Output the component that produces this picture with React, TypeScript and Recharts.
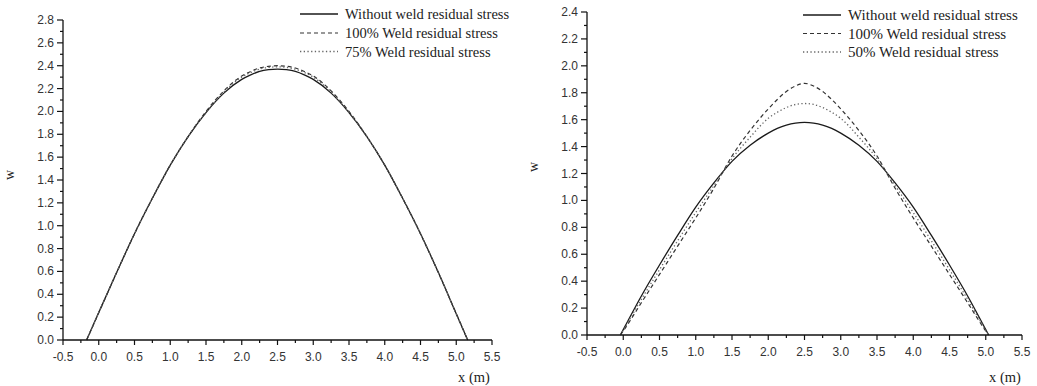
import { Line, LineChart, XAxis, YAxis } from "recharts";

// x positions (m)
const xLeft = [-0.17, 0, 0.25, 0.5, 0.75, 1.0, 1.25, 1.5, 1.75, 2.0, 2.125, 2.25, 2.375, 2.5, 2.625, 2.75, 2.875, 3.0, 3.25, 3.5, 3.75, 4.0, 4.25, 4.5, 4.75, 5.0, 5.16];
const leftWithout = [0, 0.24, 0.59, 0.93, 1.24, 1.53, 1.78, 1.99, 2.16, 2.28, 2.32, 2.35, 2.365, 2.37, 2.365, 2.35, 2.32, 2.28, 2.16, 1.99, 1.78, 1.53, 1.24, 0.93, 0.59, 0.23, 0];
const left100 = [0, 0.24, 0.59, 0.93, 1.24, 1.53, 1.78, 2.0, 2.18, 2.31, 2.35, 2.38, 2.395, 2.4, 2.395, 2.38, 2.35, 2.31, 2.18, 2.0, 1.78, 1.53, 1.24, 0.93, 0.59, 0.23, 0];
const left75 = [0, 0.24, 0.59, 0.93, 1.24, 1.53, 1.78, 1.99, 2.17, 2.3, 2.34, 2.37, 2.385, 2.39, 2.385, 2.37, 2.34, 2.3, 2.17, 1.99, 1.78, 1.53, 1.24, 0.93, 0.59, 0.23, 0];

const xRight = [-0.04, 0, 0.25, 0.5, 0.75, 1.0, 1.25, 1.5, 1.75, 2.0, 2.125, 2.25, 2.375, 2.5, 2.625, 2.75, 2.875, 3.0, 3.25, 3.5, 3.75, 4.0, 4.25, 4.5, 4.75, 5.0, 5.04];
const rightWithout = [0, 0.04, 0.29, 0.52, 0.74, 0.95, 1.13, 1.29, 1.41, 1.5, 1.535, 1.56, 1.575, 1.58, 1.575, 1.56, 1.535, 1.5, 1.41, 1.29, 1.13, 0.95, 0.74, 0.52, 0.29, 0.04, 0];
const right100 = [0, 0.03, 0.24, 0.45, 0.66, 0.87, 1.09, 1.33, 1.52, 1.68, 1.75, 1.81, 1.85, 1.87, 1.85, 1.81, 1.75, 1.68, 1.52, 1.33, 1.09, 0.87, 0.66, 0.45, 0.24, 0.03, 0];
const right50 = [0, 0.035, 0.265, 0.485, 0.7, 0.91, 1.11, 1.31, 1.47, 1.61, 1.655, 1.69, 1.713, 1.72, 1.713, 1.69, 1.655, 1.61, 1.47, 1.31, 1.11, 0.91, 0.7, 0.485, 0.265, 0.035, 0];

// labelled (major) ticks
const xMajor = [-0.5, 0, 0.5, 1.0, 1.5, 2.0, 2.5, 3.0, 3.5, 4.0, 4.5, 5.0, 5.5];
const yMajorLeft = [0, 0.2, 0.4, 0.6, 0.8, 1.0, 1.2, 1.4, 1.6, 1.8, 2.0, 2.2, 2.4, 2.6, 2.8];
const yMajorRight = [0, 0.2, 0.4, 0.6, 0.8, 1.0, 1.2, 1.4, 1.6, 1.8, 2.0, 2.2, 2.4];

const legendLeft = ["Without weld residual stress", "100% Weld residual stress", "75% Weld residual stress"];
const legendRight = ["Without weld residual stress", "100% Weld residual stress", "50% Weld residual stress"];

const withMinors = (major: number[]) => {
  const out: number[] = [];
  major.forEach((v, i) => {
    out.push(v);
    if (i < major.length - 1) out.push((v + major[i + 1]) / 2);
  });
  return out;
};

const buildRows = (xs: number[], a: number[], b: number[], c: number[]) =>
  xs.map((x, i) => ({ x, a: a[i], b: b[i], c: c[i] }));

const leftRows = buildRows(xLeft, leftWithout, left100, left75);
const rightRows = buildRows(xRight, rightWithout, right100, right50);

const tickFont = "'Liberation Sans', Arial, sans-serif";
const serif = "'Liberation Serif', 'Times New Roman', serif";

const XTick = (props: any) => {
  const { x, y, payload } = props;
  const major = xMajor.includes(payload.value);
  return (
    <g>
      <line x1={x} x2={x} y1={y} y2={y + (major ? 5 : 3)} stroke="#111" strokeWidth={1.2} />
      {major && (
        <text x={x} y={y + 21} textAnchor="middle" fontSize={12} fontFamily={tickFont} fill="#333">
          {payload.value.toFixed(1)}
        </text>
      )}
    </g>
  );
};

const makeYTick = (majors: number[]) => (props: any) => {
  const { x, y, payload } = props;
  const major = majors.includes(payload.value);
  return (
    <g>
      <line x1={x} x2={x - (major ? 6 : 3)} y1={y} y2={y} stroke="#111" strokeWidth={1.2} />
      {major && (
        <text x={x - 9} y={y + 4} textAnchor="end" fontSize={12} fontFamily={tickFont} fill="#333">
          {payload.value.toFixed(1)}
        </text>
      )}
    </g>
  );
};

const YTickLeft = makeYTick(yMajorLeft);
const YTickRight = makeYTick(yMajorRight);

const solid = { stroke: "#1a1a1a", strokeWidth: 1.3 };
const dashed = { stroke: "#333", strokeWidth: 1.2, strokeDasharray: "4 3" };
const dotted = { stroke: "#666", strokeWidth: 1.3, strokeDasharray: "1.3 2.4" };

const Panel = ({ rows, yMax, yMajor, YTick, margin, width }: any) => (
  <LineChart width={width} height={386} data={rows} margin={margin}>
    <XAxis
      dataKey="x"
      type="number"
      domain={[-0.5, 5.5]}
      ticks={withMinors(xMajor)}
      interval={0}
      tick={<XTick />}
      tickLine={false}
      tickSize={0}
      tickMargin={0}
      height={30}
      axisLine={{ stroke: "#111", strokeWidth: 1.3 }}
    />
    <YAxis
      type="number"
      domain={[0, yMax]}
      ticks={withMinors(yMajor)}
      interval={0}
      tick={<YTick />}
      tickLine={false}
      tickSize={0}
      tickMargin={0}
      width={40}
      axisLine={{ stroke: "#111", strokeWidth: 1.3 }}
    />
    <Line type="monotone" dataKey="a" dot={false} isAnimationActive={false} {...solid} />
    <Line type="monotone" dataKey="b" dot={false} isAnimationActive={false} {...dashed} />
    <Line type="monotone" dataKey="c" dot={false} isAnimationActive={false} {...dotted} />
  </LineChart>
);

const LegendBlock = ({ x, rowsY, labels, fontSize }: any) => {
  const styles = [solid, dashed, dotted];
  return (
    <g>
      {labels.map((label: string, i: number) => (
        <g key={label}>
          <line x1={x} x2={x + 38} y1={rowsY[i]} y2={rowsY[i]} {...styles[i]} />
          <text x={x + 45} y={rowsY[i] + 5} fontSize={fontSize} fontFamily={serif} fill="#222">
            {label}
          </text>
        </g>
      ))}
    </g>
  );
};

export default function App() {
  return (
    <div style={{ position: "absolute", left: 0, top: 0, width: 1037, height: 386, background: "#fff" }}>
      <div style={{ position: "absolute", left: 0, top: 0 }}>
        <Panel
          rows={leftRows}
          yMax={2.8}
          yMajor={yMajorLeft}
          YTick={YTickLeft}
          width={520}
          margin={{ top: 20, right: 28, bottom: 16, left: 23 }}
        />
      </div>
      <div style={{ position: "absolute", left: 520, top: 0 }}>
        <Panel
          rows={rightRows}
          yMax={2.4}
          yMajor={yMajorRight}
          YTick={YTickRight}
          width={517}
          margin={{ top: 12, right: 15, bottom: 21, left: 27 }}
        />
      </div>
      <svg
        width={1037}
        height={386}
        style={{ position: "absolute", left: 0, top: 0, pointerEvents: "none" }}
      >
        <LegendBlock x={300} rowsY={[14, 33, 51.5]} labels={legendLeft} fontSize={14.5} />
        <LegendBlock x={803} rowsY={[15, 33.5, 52]} labels={legendRight} fontSize={15} />
        <text x={14} y={175} transform="rotate(-90 14 175)" textAnchor="middle" fontSize={14} fontFamily={serif} fill="#222">
          w
        </text>
        <text x={538} y={167} transform="rotate(-90 538 167)" textAnchor="middle" fontSize={14} fontFamily={serif} fill="#222">
          w
        </text>
        <text x={474} y={382} textAnchor="middle" fontSize={14.5} fontFamily={serif} fill="#222">
          x (m)
        </text>
        <text x={1005} y={382} textAnchor="middle" fontSize={14.5} fontFamily={serif} fill="#222">
          x (m)
        </text>
      </svg>
    </div>
  );
}
